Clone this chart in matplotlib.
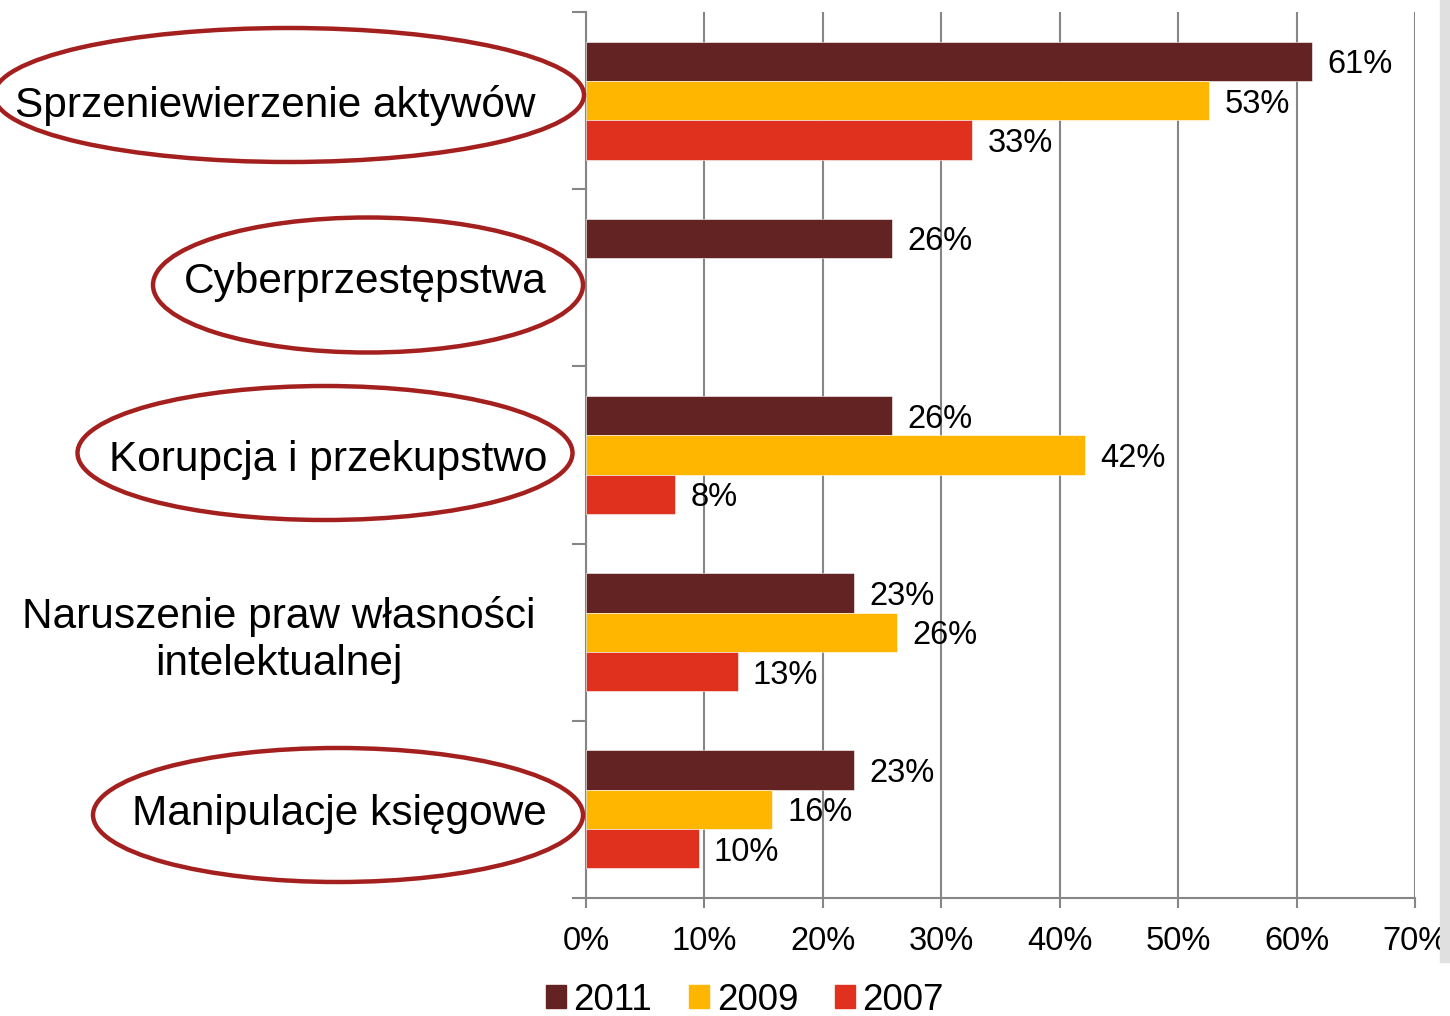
import matplotlib.pyplot as plt
import numpy as np
import matplotlib.transforms as mtrans
from matplotlib.patches import Ellipse, Rectangle, Patch

plt.rcParams['font.family'] = ['Liberation Sans', 'DejaVu Sans']

# categories, top to bottom
categories = [
    "Sprzeniewierzenie aktywów",
    "Cyberprzestępstwa",
    "Korupcja i przekupstwo",
    "Naruszenie praw własności\nintelektualnej",
    "Manipulacje księgowe",
]
years = ["2011", "2009", "2007"]
colors = ["#622322", "#FFB600", "#E0301E"]

# bar lengths (percent); None = no bar
v2011 = [61.3, 25.8, 25.8, 22.6, 22.6]
v2009 = [52.6, None, 42.1, 26.3, 15.7]
v2007 = [32.6, None, 7.5, 12.8, 9.5]
lab2011 = ["61%", "26%", "26%", "23%", "23%"]
lab2009 = ["53%", None, "42%", "26%", "16%"]
lab2007 = ["33%", None, "8%", "13%", "10%"]

W, H = 1450, 1016
fig = plt.figure(figsize=(W / 100, H / 100), dpi=100)
ax = fig.add_axes([586 / W, 1 - 898 / H, (1415 - 586) / W, (898 - 12) / H])

grey = "#868686"
bh = 0.222
offsets = [-bh, 0, bh]
series = [(v2011, lab2011), (v2009, lab2009), (v2007, lab2007)]
y = np.arange(len(categories))
for (vals, labs), off, col in zip(series, offsets, colors):
    for i, (v, l) in enumerate(zip(vals, labs)):
        if v is None:
            continue
        ax.barh(y[i] + off, v, height=bh, color=col, edgecolor="white",
                linewidth=0.4, zorder=3)
        ax.text(v + 1.3, y[i] + off, l, va="center_baseline", ha="left",
                fontsize=23.5, zorder=4)

ax.set_xlim(0, 70)
ax.set_ylim(len(categories) - 0.5, -0.5)
ax.set_xticks(np.arange(0, 71, 10))
ax.set_xticklabels([f"{t}%" for t in range(0, 71, 10)], fontsize=23.5)
ax.xaxis.grid(True, color=grey, linewidth=1.5, zorder=0)
ax.set_yticks(y)
ax.set_yticklabels(categories, fontsize=30.5, multialignment="center",
                   linespacing=1.22)
ax.set_yticks(np.arange(-0.5, len(categories)), minor=True)
ax.tick_params(axis="y", which="major", length=0, pad=28)
ax.tick_params(axis="y", which="minor", length=10, width=1.5, color=grey)
ax.tick_params(axis="x", length=7, width=1.5, color=grey, pad=13)
for s in ["top", "right"]:
    ax.spines[s].set_visible(False)
for s in ["left", "bottom"]:
    ax.spines[s].set_color(grey)
    ax.spines[s].set_linewidth(1.5)

# the long labels sit a bit further left
for idx in (0, 3):
    lbl = ax.get_yticklabels()[idx]
    lbl.set_transform(lbl.get_transform() +
                      mtrans.ScaledTranslation(-12 / 100, 0, fig.dpi_scale_trans))

# red ellipses around highlighted labels (figure pixel coords)
ell = [(289, 95, 590, 134), (368, 285, 430, 135), (325, 453, 495, 134),
       (338, 815, 490, 134)]
for cx, cy, w, h in ell:
    fig.patches.append(Ellipse((cx / W, 1 - cy / H), w / W, h / H,
                               transform=fig.transFigure, fill=False,
                               edgecolor="#A3201F", linewidth=3.2))

# grey strip cut off at right edge
fig.patches.append(Rectangle((1440 / W, 1 - 962 / H), 10 / W, 962 / H,
                             transform=fig.transFigure, color="#E0E0E0"))

handles = [Patch(color=c) for c in colors]
fig.legend(handles, years, loc="center", bbox_to_anchor=(745 / W, 1 - 1000 / H),
           ncol=3, frameon=False, fontsize=26.5, handlelength=0.55,
           handleheight=0.55, handletextpad=0.2, columnspacing=1.0)

fig.savefig("out.png", dpi=100)
